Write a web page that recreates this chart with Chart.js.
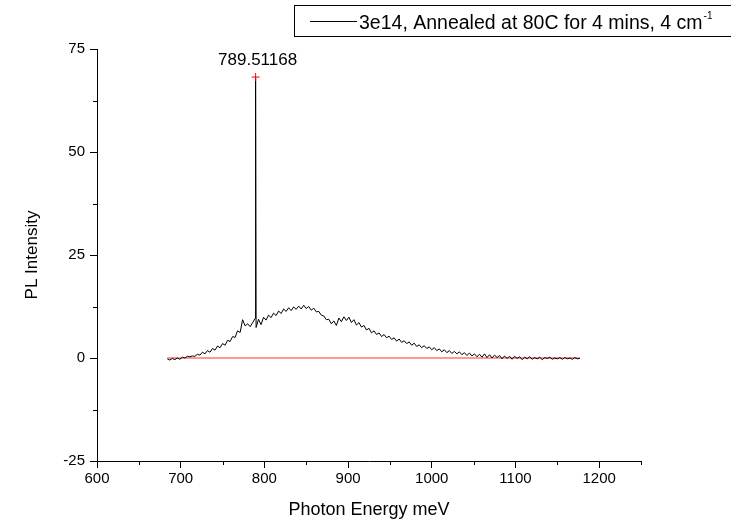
<!DOCTYPE html>
<html>
<head>
<meta charset="utf-8">
<script src="https://cdn.jsdelivr.net/npm/chart.js@4.4.0/dist/chart.umd.min.js"></script>
<style>
  html, body { margin: 0; padding: 0; background: #fff; }
  #wrap { width: 731px; height: 527px; }
</style>
</head>
<body>
<div id="wrap"><canvas id="plChart" width="731" height="527"></canvas></div>
<script>
// photon energy (meV) and PL intensity
const energies = [
  684, 687, 690, 693, 696, 699, 702, 705, 708, 711,
  714, 717, 720, 723, 726, 729, 732, 735, 738, 741,
  744, 747, 750, 753, 756, 759, 762, 765, 768, 771,
  774, 777, 780, 783, 786, 788.9, 789.51, 790.1, 793, 796,
  799, 802, 805, 808, 811, 814, 817, 820, 823, 826,
  829, 832, 835, 838, 841, 844, 847, 850, 853, 856,
  859, 862, 865, 868, 871, 874, 877, 880, 883, 886,
  889, 892, 895, 898, 901, 904, 907, 910, 913, 916,
  919, 922, 925, 928, 931, 934, 937, 940, 943, 946,
  949, 952, 955, 958, 961, 964, 967, 970, 973, 976,
  979, 982, 985, 988, 991, 994, 997, 1000, 1003, 1006,
  1009, 1012, 1015, 1018, 1021, 1024, 1027, 1030, 1033, 1036,
  1039, 1042, 1045, 1048, 1051, 1054, 1057, 1060, 1063, 1066,
  1069, 1072, 1075, 1078, 1081, 1084, 1087, 1090, 1093, 1096,
  1099, 1102, 1105, 1108, 1111, 1114, 1117, 1120, 1123, 1126,
  1129, 1132, 1135, 1138, 1141, 1144, 1147, 1150, 1153, 1156,
  1159, 1162, 1165, 1168, 1171, 1174, 1177
];
const intensity = [
  -0.2, -0.5, -0.1, -0.4, 0.0, -0.3, 0.2, 0.0, 0.4, 0.3,
  0.5, 0.4, 0.9, 0.7, 1.4, 1.0, 1.8, 1.4, 2.3, 1.9,
  2.9, 2.5, 3.5, 3.1, 4.3, 4.0, 5.2, 5.0, 6.6, 6.2,
  9.3, 7.8, 8.3, 7.6, 8.6, 9.6, 68.2, 7.4, 9.4, 8.1,
  9.9, 9.2, 10.4, 9.8, 10.9, 10.3, 11.4, 10.8, 11.9, 11.3,
  12.2, 11.5, 12.4, 11.8, 12.6, 11.9, 12.8, 12.0, 12.5, 11.6,
  12.1, 11.2, 11.3, 10.4, 10.2, 9.3, 9.4, 8.3, 9.0, 7.9,
  9.7, 8.8, 10.0, 9.1, 9.9, 8.6, 9.3, 8.0, 8.6, 7.5,
  7.9, 6.8, 7.2, 6.1, 6.6, 5.7, 6.1, 5.2, 5.7, 4.9,
  5.3, 4.5, 4.9, 4.1, 4.6, 3.8, 4.2, 3.5, 3.9, 3.1,
  3.6, 2.8, 3.2, 2.5, 3.0, 2.3, 2.7, 2.0, 2.5, 1.8,
  2.2, 1.5, 2.0, 1.3, 1.8, 1.1, 1.6, 1.0, 1.5, 0.8,
  1.3, 0.6, 1.2, 0.5, 1.0, 0.3, 0.9, 0.2, 1.0, 0.1,
  0.8, 0.0, 0.7, 0.1, 0.6, -0.2, 0.5, -0.1, 0.4, -0.3,
  0.4, -0.1, 0.3, -0.4, 0.2, -0.2, 0.3, -0.3, 0.1, -0.2,
  0.2, -0.4, 0.1, -0.1, 0.2, -0.3, 0.0, -0.2, 0.1, -0.3,
  0.1, -0.2, 0.0, -0.3, 0.1, -0.2, -0.1
];

// baseline (red) and peak marker
const baseX = [684, 1177];
const baseY = [0, 0];
const peakX = [789.51168];
const peakY = [68.2];
const peakLabel = '789.51168';

const seriesName = '3e14, Annealed at 80C for 4 mins, 4 cm';
const seriesSup = '-1';

// axis ranges / ticks
const xMin = 600, xMax = 1250, xStep = 50, xLabelStep = 100;
const yMin = -25, yMax = 75, yStep = 12.5, yLabelStep = 25;

const FONT = "'Liberation Sans', Arial, sans-serif";

const toPoints = (xs, ys) => xs.map((x, i) => ({ x: x, y: ys[i] }));
const isMajor = (v, step) => Math.abs(v / step - Math.round(v / step)) < 1e-6;

// minor ticks are shorter than major ones, draw them by hand
const minorTicks = {
  id: 'minorTicks',
  afterDraw(chart) {
    const ctx = chart.ctx;
    const xs = chart.scales.x, ys = chart.scales.y;
    ctx.save();
    ctx.strokeStyle = '#000';
    ctx.lineWidth = 1;
    ctx.beginPath();
    xs.ticks.forEach(t => {
      if (isMajor(t.value, xLabelStep)) return;
      const px = Math.round(xs.getPixelForValue(t.value)) + 0.5;
      ctx.moveTo(px, ys.bottom);
      ctx.lineTo(px, ys.bottom + 4);
    });
    ys.ticks.forEach(t => {
      if (isMajor(t.value, yLabelStep)) return;
      const py = Math.round(ys.getPixelForValue(t.value)) + 0.5;
      ctx.moveTo(xs.left, py);
      ctx.lineTo(xs.left - 4, py);
    });
    ctx.stroke();
    ctx.restore();
  }
};

// peak value text above the red cross
const peakText = {
  id: 'peakText',
  afterDatasetsDraw(chart) {
    const ctx = chart.ctx;
    const px = chart.scales.x.getPixelForValue(peakX[0]);
    const py = chart.scales.y.getPixelForValue(peakY[0]);
    ctx.save();
    ctx.fillStyle = '#000';
    ctx.font = '17px ' + FONT;
    ctx.textAlign = 'center';
    ctx.textBaseline = 'alphabetic';
    ctx.fillText(peakLabel, px + 2, py - 12);
    ctx.restore();
  }
};

// boxed legend with superscript unit
const boxLegend = {
  id: 'boxLegend',
  afterDraw(chart) {
    const ctx = chart.ctx;
    ctx.save();
    ctx.strokeStyle = '#000';
    ctx.lineWidth = 1;
    ctx.strokeRect(294.5, 5.5, 460, 31);
    ctx.beginPath();
    ctx.moveTo(310, 21.5);
    ctx.lineTo(357, 21.5);
    ctx.stroke();
    ctx.fillStyle = '#000';
    ctx.font = '19.5px ' + FONT;
    ctx.textBaseline = 'alphabetic';
    ctx.fillText(seriesName, 359, 29);
    const w = ctx.measureText(seriesName).width;
    ctx.font = '10px ' + FONT;
    ctx.fillText(seriesSup, 359 + w + 1, 19);
    ctx.restore();
  }
};

const ctx = document.getElementById('plChart').getContext('2d');
new Chart(ctx, {
  type: 'line',
  data: {
    datasets: [
      {
        label: 'baseline',
        data: toPoints(baseX, baseY),
        borderColor: '#ff3030',
        borderWidth: 1,
        pointRadius: 0,
        order: 2
      },
      {
        label: seriesName,
        data: toPoints(energies, intensity),
        borderColor: '#000',
        borderWidth: 1,
        pointRadius: 0,
        tension: 0,
        order: 1
      },
      {
        label: 'peak',
        type: 'scatter',
        data: toPoints(peakX, peakY),
        pointStyle: 'cross',
        pointRadius: 4,
        borderColor: '#ff0000',
        borderWidth: 1,
        order: 0
      }
    ]
  },
  options: {
    responsive: false,
    animation: false,
    events: [],
    layout: { padding: { top: 49, right: 90, left: 0, bottom: 0 } },
    plugins: {
      legend: { display: false },
      tooltip: { enabled: false }
    },
    scales: {
      x: {
        type: 'linear',
        min: xMin,
        max: xMax,
        afterFit: s => { s.height = 66; },
        ticks: {
          stepSize: xStep,
          autoSkip: false,
          maxRotation: 0,
          padding: 2,
          color: '#000',
          font: { family: FONT, size: 15 },
          callback: v => isMajor(v, xLabelStep) ? v : ''
        },
        grid: {
          drawOnChartArea: false,
          tickLength: 7,
          color: c => (c.tick && isMajor(c.tick.value, xLabelStep)) ? '#000' : 'rgba(0,0,0,0)'
        },
        border: { color: '#000', width: 1 },
        title: {
          display: true,
          text: 'Photon Energy meV',
          color: '#000',
          font: { family: FONT, size: 18 },
          padding: { top: 0, bottom: 6 }
        }
      },
      y: {
        type: 'linear',
        min: yMin,
        max: yMax,
        afterFit: s => { s.width = 97; },
        ticks: {
          stepSize: yStep,
          autoSkip: false,
          padding: 5,
          color: '#000',
          font: { family: FONT, size: 15 },
          callback: v => isMajor(v, yLabelStep) ? v : ''
        },
        grid: {
          drawOnChartArea: false,
          tickLength: 7,
          color: c => (c.tick && isMajor(c.tick.value, yLabelStep)) ? '#000' : 'rgba(0,0,0,0)'
        },
        border: { color: '#000', width: 1 },
        title: {
          display: true,
          text: 'PL Intensity',
          color: '#000',
          font: { family: FONT, size: 17 },
          padding: { top: 22, bottom: 0 }
        }
      }
    }
  },
  plugins: [minorTicks, peakText, boxLegend]
});
</script>
</body>
</html>
